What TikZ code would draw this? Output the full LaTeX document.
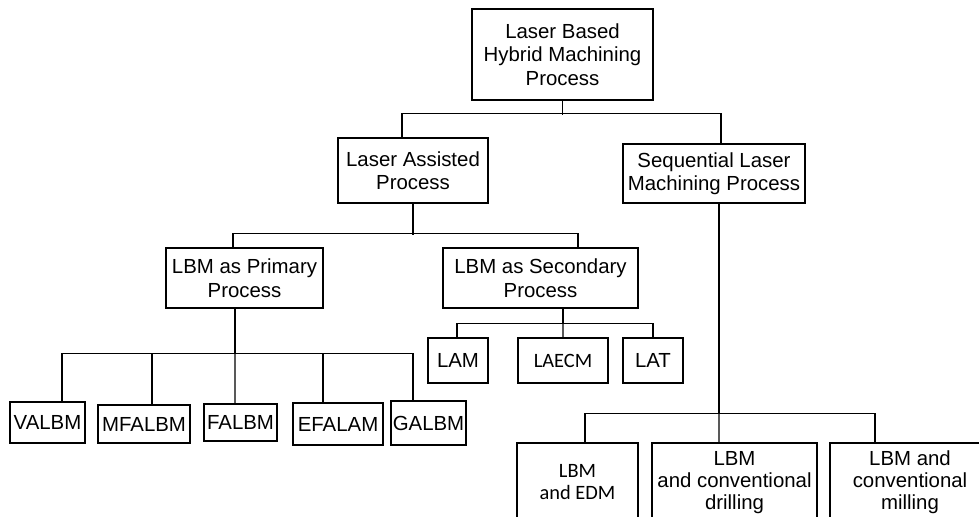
\documentclass[tikz,border=0pt]{standalone}
\usepackage{fontspec}
\setmainfont{Liberation Sans}
\newfontfamily\calibrif{Carlito}
\newcommand\boxsize{\fontsize{14.5}{16.7}\selectfont}

\begin{document}
\begin{tikzpicture}[
    x=0.025cm, y=-0.025cm,
    line width=1pt,
    every node/.style = {
      shape=rectangle,
      draw,
      align=center,
      inner sep=1pt,
      font=\boxsize
    },
    calibri/.style = {font=\calibrif\fontsize{14.5}{15.6}\selectfont},
    lowbox/.style = {minimum height=1.975cm, font=\fontsize{14.5}{15.8}\selectfont}
  ]
  \useasboundingbox (0,0) rectangle (979,517);
  \clip (0,0) rectangle (979,517);

  % top levels
  \node[minimum width=4.525cm, minimum height=2.275cm] (root) at (562.5,54.5) {Laser Based\\Hybrid Machining\\Process};
  \node[minimum width=3.75cm, minimum height=1.625cm] (assist) at (413,170.5) {Laser Assisted\\Process};
  \node[minimum width=4.55cm, minimum height=1.475cm] (seq) at (714,173.5) {Sequential Laser\\Machining Process};
  \node[minimum width=3.925cm, minimum height=1.5cm] (primary) at (244.5,278) {LBM as Primary\\Process};
  \node[minimum width=4.875cm, minimum height=1.5cm] (secondary) at (540.5,278) {LBM as Secondary\\Process};

  % secondary children
  \node[minimum width=1.5cm, minimum height=1.125cm] (lam) at (458,360.5) {LAM};
  \node[calibri, minimum width=2.25cm, minimum height=1.125cm] (laecm) at (563,360.5) {LAECM};
  \node[minimum width=1.5cm, minimum height=1.125cm] (lat) at (653,360.5) {LAT};

  % primary children
  \node[minimum width=1.875cm, minimum height=1.025cm] (valbm) at (47.5,422.5) {VALBM};
  \node[minimum width=2.3cm, minimum height=0.95cm] (mfalbm) at (144,424) {MFALBM};
  \node[minimum width=1.825cm, minimum height=0.925cm] (falbm) at (240.5,422.5) {FALBM};
  \node[minimum width=2.25cm, minimum height=1.05cm] (efalam) at (338,424) {EFALAM};
  \node[minimum width=1.875cm, minimum height=1.1cm] (galbm) at (428.5,423) {GALBM};

  % sequential children
  \node[lowbox, calibri, minimum width=3.025cm] (edm) at (577.5,482.5) {LBM\\and EDM};
  \node[lowbox, minimum width=4.125cm] (drill) at (734.5,482.5) {LBM\\and conventional\\drilling};
  \node[lowbox, minimum width=4cm] (mill) at (910,482.5) {LBM and\\conventional\\milling};

  % connectors
  \draw (root.south) -- ++(0,14);
  \draw ([xshift=-0.275cm]assist.north) -- ++(0,-24) -| ([xshift=0.175cm]seq.north);

  \draw (assist.south) -- ++(0,31);
  \draw ([xshift=-0.2875cm]primary.north) -- ++(0,-14) -| ([xshift=0.9375cm]secondary.north);

  \draw ([xshift=-0.2375cm]primary.south) -- ++(0,45) coordinate (pjoin);
  \draw ([xshift=0.3625cm]valbm.north) |- (pjoin) -| ([xshift=-0.3875cm]galbm.north);
  \draw (pjoin) -- ([xshift=-0.1375cm]falbm.north);
  \foreach \n/\dx in {mfalbm/0.2, efalam/-0.375}
    \draw ([xshift=\dx cm]\n.north) |- (pjoin);

  \draw ([xshift=0.5625cm]secondary.south) -- ++(0,15) coordinate (sjoin);
  \draw ([xshift=-0.025cm]lam.north) |- (sjoin) -| (lat.north);
  \draw (sjoin) -- (laecm.north);

  \draw ([xshift=0.125cm]seq.south) -- ++(0,210) coordinate (qjoin);
  \draw ([xshift=0.1875cm]edm.north) |- (qjoin) -| ([xshift=-0.875cm]mill.north);
  \draw (qjoin) -- ([xshift=-0.3875cm]drill.north);

\end{tikzpicture}
\end{document}
